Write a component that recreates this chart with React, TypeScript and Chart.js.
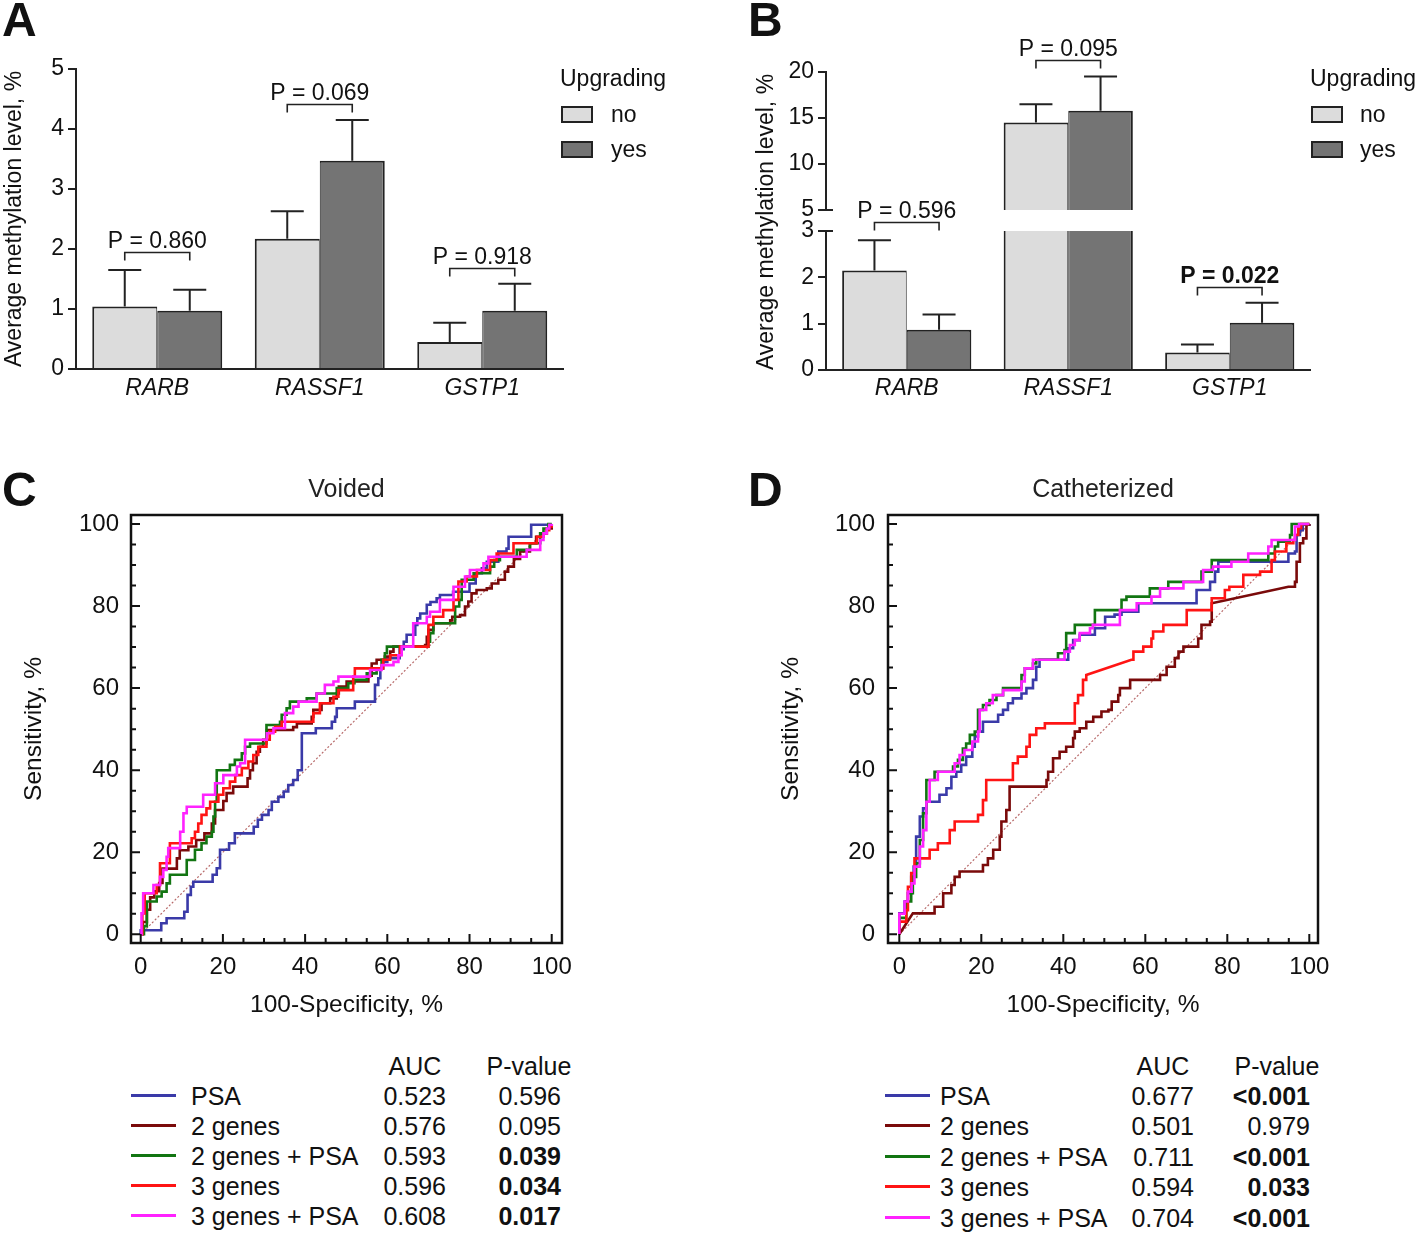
import React, { useEffect, useRef } from 'react';
import { Chart, registerables } from 'chart.js';
Chart.register(...registerables);

const FONT = '"Liberation Sans", Arial, Helvetica, sans-serif';

// ---------- Panels A / B (bar charts) ----------
const genes = ['RARB', 'RASSF1', 'GSTP1'];
const groups = ['no', 'yes'];
const legendTitle = 'Upgrading';
const yTitleBars = 'Average methylation level, %';

const aNo = [1.04, 2.17, 0.45];
const aYes = [0.97, 3.47, 0.97];
const aNoErr = [1.65, 2.63, 0.77];
const aYesErr = [1.32, 4.15, 1.42];
const aPText = ['P = 0.860', 'P = 0.069', 'P = 0.918'];
const aPLevel = [1.95, 4.42, 1.69];
const aPBold = [false, false, false];

const bNo = [2.15, 14.5, 0.38];
const bYes = [0.87, 15.8, 1.02];
const bNoErr = [2.8, 16.5, 0.55];
const bYesErr = [1.2, 19.5, 1.45];
const bPText = ['P = 0.596', 'P = 0.095', 'P = 0.022'];
const bPLevel = [3.19, 21.3, 1.79];
const bPBold = [false, false, true];

// ---------- Panels C / D (ROC curves) ----------
// points: [100-specificity, sensitivity] ; optional third value 1 = straight (diagonal) segment
const seriesNames = ['PSA', '2 genes', '2 genes + PSA', '3 genes', '3 genes + PSA'];
const seriesColors = ['#3a3aa8', '#7a0a0a', '#127512', '#ff1414', '#ff22ff'];

const cPSA = [[0,0],[0,1],[5,2.7],[6.3,3.9],[10.6,5.5],[11.4,9.6],[12.2,11.6],[12.8,12.8],[17.5,14.5],[18.5,16.1],[19.3,20.6],[21.5,22.2],[22.9,24.6],[27.5,26.2],[28.5,27.9],[29.5,29.1],[31.1,30.3],[31.9,32.3],[33.5,33.5],[34.8,34.8],[35.9,36.4],[37.1,37.6],[38.2,40],[39.2,49],[42.6,50.2],[46.5,51.8],[47.3,53],[47.7,55.1],[52.1,56.7],[57,60.8],[57.8,62.4],[58.3,64.8],[59,66.4],[60,67.3],[63,69.5],[64,71.3],[64.7,73],[66.8,75.4],[67.3,77],[68,78.2],[69.6,80.3],[70.5,81],[72,81.9],[72.8,82.7],[76,83.5],[80,85.5],[81.5,88],[83,89.2],[84.2,90.8],[87,93.3],[89,94],[89.5,96.9],[95,99.8],[100,100]];
const c2g = [[0,0],[0.5,3],[1.5,6],[2.3,9],[3.3,10.5],[4.5,12.5],[5.3,16],[8.8,18.5],[9.5,20.5],[11.6,21.4],[13.5,23],[15.5,24.6],[17.3,27],[18.1,30.3],[20.1,32.5],[20.9,34.4],[22.5,36],[26,38],[26.6,40],[27.3,41.7],[28.2,44.5],[29,45.7],[29.8,47.4],[30.7,49.8],[37.1,50.5],[38,51.4],[41.6,53],[42,54.7],[44,56.3],[46.1,57.5],[47.7,58.7],[48.2,60.4],[50.1,61.6],[55.4,63],[56.2,66],[57.4,66.9],[59.4,67.7],[60.7,68.9],[61.5,70.1],[69.2,70.5],[69.6,72.5],[70,74.2],[71.2,75.8],[75.3,76.5],[75.8,77.4],[77.7,77.8],[78.9,79.9],[79.7,81.1],[80.5,83.1],[81.7,83.9],[84.2,84.3],[85.4,85.5],[87,86.4],[88.6,88.4],[89.4,89.6],[90.8,91.5],[92.3,93.3],[94.7,95.3],[96.2,96.9],[97.2,97.7],[98.8,98.9],[100,100]];
const c2gPSA = [[0,0],[0.8,2],[1.5,8],[3.9,9.2],[5.1,10.4],[6.3,12.4],[7.1,14.5],[11.2,18.1],[13.2,20.6],[14.8,22.2],[16,23.8],[17.3,25],[17.7,28.7],[18.1,32.3],[18.5,40],[21.7,41.3],[22.9,42.5],[24.6,44.1],[25.4,45.7],[26.6,46.5],[30.6,51],[33.9,51.8],[34.3,53.5],[35.5,55.1],[36.3,56.7],[40.4,57.5],[42.8,58.7],[47.7,60],[50.5,61.2],[52,62],[55,63.6],[57.4,64.8],[58.6,66.9],[59.4,68.5],[59.9,70.1],[70,71.3],[70.4,73.4],[71.2,75.8],[76.5,79.9],[77.5,81.5],[78.1,86.4],[81,88],[85,89.6],[86,91.2],[87.4,92],[91.5,93.7],[94.7,95.3],[97.2,97.7],[98,98.9],[99.2,100],[100,100]];
const c3g = [[0,0],[0.4,5.1],[0.9,8.4],[1,10],[3.9,12],[4.7,17.3],[7.1,22.2],[12.4,23.4],[13.2,25],[14,27],[14.8,29.1],[16,30.7],[16.9,32.3],[18.9,34],[20.1,35.6],[21.7,37.2],[23,38.8],[24.6,40.5],[26.2,42.1],[27.4,43.7],[28.6,45.7],[30.6,47.4],[31.4,49.4],[32.7,50.6],[34.3,51.8],[42,53.9],[43.6,56.3],[46.9,57.9],[48.1,59.5],[51.7,62.8],[52.1,64.8],[59,66.9],[60.7,68],[63.1,70.1],[70,75.4],[71.2,77.4],[73.6,79],[76.1,81.5],[77.3,86],[79.3,87.2],[81.8,88.8],[85,91.2],[86.6,92.8],[90.7,95.3],[96.4,96.9],[98,97.7],[98.8,98.5],[99.4,99.4],[100,100]];
const c3gPSA = [[0,0],[0.2,5.1],[0.6,10],[3.1,12],[4.7,14],[5.5,15.7],[6.3,18.9],[6.7,21],[9.6,25],[10.4,29.5],[11.2,31.1],[15.2,34],[18.1,36.8],[20.1,38.8],[23.4,40.9],[24.2,41.7],[25.4,47.4],[30.7,49],[32.3,50.2],[35.1,53.9],[37.1,55.5],[38.4,56.7],[42.8,58.7],[44.8,60.8],[46.9,61.6],[48.1,62.8],[55.8,64.4],[58.6,65.6],[61.5,66.4],[62.7,68],[63.5,70.1],[66.3,75.8],[69.6,77.4],[70.4,78.6],[72.8,81.5],[76.1,84.7],[78.9,87.2],[80.1,88.8],[83.4,90.4],[84.6,92],[93.9,93.7],[97.2,96.1],[98,97.7],[98.8,98.9],[99.4,99.8],[100,100]];

const dPSA = [[0,0],[0,5.1],[1.3,8],[2.1,10],[2.9,14],[3.5,16.5],[4.1,23.8],[5,28.7],[5.8,30.7],[6.6,32.3],[9.8,34],[11.5,35.6],[12.7,38.4],[13.9,39.6],[15.1,41.3],[16.3,43.3],[17.8,45.7],[18.4,48.2],[19.2,49.4],[20.4,51.8],[24.1,53.5],[25.3,54.7],[26.5,56.3],[27.7,57.5],[29.8,58.7],[31,60],[32.6,62],[33.4,65.2],[34.2,66.9],[41.2,69.7],[42.4,71.7],[44,73],[47.7,74.6],[50.2,77.4],[52.5,77.9],[54.2,78.6],[58.3,80.7],[72.5,83.9],[75.8,85.9],[77,88.4],[77.8,90.8],[94.9,92.8],[96.5,93.3],[96.9,97.3],[97.7,98.5],[98.4,99.8],[100,100]];
const d2g = [[0,0],[3.3,5.1,1],[8.6,6.7],[10.7,10],[12.7,12],[13.5,14],[14.7,15.3],[20.4,16.9],[21.6,18.5],[22.9,20.6],[24.5,23.8],[24.9,27.5],[26.1,30.3],[26.9,36],[35.9,37.6],[36.3,39.6],[37.5,42.9],[39.1,44.5],[40.7,45.7],[42.4,47.8],[42.8,49.4],[44,50.2],[45.6,51.8],[47.3,53],[49.3,54.3],[51,54.7],[51.8,56.7],[53.4,58.3],[53.8,60],[56.3,62],[63.6,63.2],[65.2,65.2],[67.2,67.3],[68.1,68.9],[69.3,70.1],[72.9,72.1],[73.7,75.4],[75.8,76.2],[76.2,80.7],[94.9,84.7,1],[96.5,85.9],[96.9,90.8],[97.7,95.3],[98.5,96.5],[99.3,99.8],[100,100]];
const d2gPSA = [[0,0],[0,4],[1.7,8],[2.9,10],[3.3,14],[4.1,17.3],[5,23],[5.8,29.5],[6.6,37.6],[8.6,39.6],[13.1,40.9],[14.3,42.5],[15.5,45.3],[16.3,46.5],[17.2,48.6],[18.4,49.4],[19.2,54.7],[20.4,55.9],[22,57.1],[23.7,58.3],[25.3,60],[29.8,63.2],[30.6,64.8],[32.6,66],[33.4,66.9],[38.7,68.5],[40.3,69.3],[40.7,73.4],[42.8,75.4],[47.7,79],[54.2,81.5],[55.4,82.3],[61.1,84.3],[65.6,85.9],[73.7,88.4],[76.2,91.2],[90,92.8],[91.6,94.5],[92.4,95.7],[95.3,97.3],[95.7,100],[100,100]];
const d3g = [[0,0],[0,3.1],[1.7,5.9],[2.1,11.6],[2.9,14.9],[3.7,18.5],[7.4,20.6],[9.4,22.2],[12.3,25.4],[13.5,27.5],[19.2,29.1],[20.4,32.7],[21.2,37.6],[27.7,41.7],[28.9,43.3],[31,45.7],[31.8,48.6],[33.4,50.2],[35.5,51.4],[42.8,56.3],[43.6,58.3],[44.8,62],[45.6,63.2],[56.6,66.9,1],[57.1,68.9],[59.5,70.1],[61.5,72.1],[61.9,73.8],[64.4,75.4],[70.1,79],[76.2,81.9],[79.4,83.9],[80.5,84.7],[83.9,87.6],[88,88.4],[90.8,91.2],[91.6,93.3],[94.4,95.3],[96.1,96.1],[96.5,97.3],[97.3,99],[98,100],[100,100]];
const d3gPSA = [[0,0],[0,5],[1.3,8],[2.1,10.4],[3,12.4],[3.7,16.5],[5,21.4],[5.8,25.4],[6.6,32.3],[7.4,37.6],[9.4,39.6],[13.5,41.7],[14.7,43.7],[15.9,44.9],[17.8,47],[19.2,49.4],[19.6,54.7],[21.2,56.3],[22.8,58.3],[25.3,59.5],[29.8,61.6],[30.6,64.8],[32.6,66.9],[40.3,68.9],[41.6,70.5],[42.8,71.7],[44,73.4],[46.5,74.6],[47.2,75.4],[53.8,79],[57.9,80.7],[61.5,82.3],[63.6,84.3],[69.3,85.9],[74.1,88.8],[76.5,89.6],[81,90.8],[85.1,92.8],[90,94.5],[90.8,96.1],[96.5,99.4],[97.5,100],[100,100]];
const chanceLine = [[0,0],[100,100,1]];

const rocTickValues = [0, 20, 40, 60, 80, 100];
const rocMinorStep = 5;

const tableHeader = ['AUC', 'P-value'];
const cAUC = ['0.523', '0.576', '0.593', '0.596', '0.608'];
const cPval = ['0.596', '0.095', '0.039', '0.034', '0.017'];
const cPBold = [false, false, true, true, true];
const dAUC = ['0.677', '0.501', '0.711', '0.594', '0.704'];
const dPval = ['<0.001', '0.979', '<0.001', '0.033', '<0.001'];
const dPBold = [true, false, true, true, true];

const NO_COLOR = '#dcdcdc';
const YES_COLOR = '#747474';
const EDGE = '#222222';

function stepPath(pts: number[][]) {
  const out: { x: number; y: number }[] = [];
  pts.forEach((p, i) => {
    if (i > 0) {
      const q = pts[i - 1];
      if (!p[2] && p[0] !== q[0] && p[1] !== q[1]) out.push({ x: p[0], y: q[1] });
    }
    out.push({ x: p[0], y: p[1] });
  });
  return out;
}

function barPlugin(noErr: number[], yesErr: number[], pText: string[], pLevel: number[], pBold: boolean[], show: (v: number) => boolean, breakTick: number | null) {
  return {
    id: 'barAnnot',
    afterDatasetsDraw(chart: any) {
      const ctx = chart.ctx;
      const ys = chart.scales.y;
      ctx.save();
      ctx.strokeStyle = EDGE;
      ctx.lineWidth = 2;
      [noErr, yesErr].forEach((errs, di) => {
        const meta = chart.getDatasetMeta(di);
        const vals = chart.data.datasets[di].data;
        meta.data.forEach((bar: any, j: number) => {
          const v = vals[j];
          if (v < ys.min || v > ys.max) return;
          const top = ys.getPixelForValue(v);
          const e = ys.getPixelForValue(errs[j]);
          ctx.beginPath();
          ctx.moveTo(bar.x, top);
          ctx.lineTo(bar.x, e);
          ctx.moveTo(bar.x - 16.5, e);
          ctx.lineTo(bar.x + 16.5, e);
          ctx.stroke();
        });
      });
      ctx.lineWidth = 1.6;
      pText.forEach((t, j) => {
        if (!show(pLevel[j])) return;
        const x1 = chart.getDatasetMeta(0).data[j].x;
        const x2 = chart.getDatasetMeta(1).data[j].x;
        const py = Math.round(ys.getPixelForValue(pLevel[j])) + 0.5;
        ctx.beginPath();
        ctx.moveTo(x1, py + 8);
        ctx.lineTo(x1, py);
        ctx.lineTo(x2, py);
        ctx.lineTo(x2, py + 8);
        ctx.stroke();
        ctx.font = `${pBold[j] ? 'bold ' : ''}23px ${FONT}`;
        ctx.fillStyle = '#111';
        ctx.textAlign = 'center';
        ctx.textBaseline = 'alphabetic';
        ctx.fillText(t, (x1 + x2) / 2, py - 5);
      });
      if (breakTick !== null) {
        const py = ys.getPixelForValue(breakTick);
        const ax = chart.chartArea.left;
        ctx.lineWidth = 2;
        ctx.beginPath();
        ctx.moveTo(ax, py);
        ctx.lineTo(ax + 7, py);
        ctx.stroke();
      }
      ctx.restore();
    },
  };
}

function barConfig(no: number[], yes: number[], o: any) {
  const ds = (label: string, data: number[], bg: string, bw: any) => {
    const d: any = { label, data, backgroundColor: bg, borderColor: EDGE, borderWidth: bw, categoryPercentage: 0.8, barPercentage: 1 };
    if (o.clip) d.clip = o.clip;
    return d;
  };
  const x: any = {
    display: o.xDisplay,
    grid: { display: false, drawTicks: false },
    border: { display: true, color: EDGE, width: 2 },
    ticks: { font: { size: 23, style: 'italic' }, color: '#111', padding: o.xPad },
  };
  if (o.xDisplay) x.afterFit = (s: any) => { s.height = o.xHeight; };
  const y: any = {
    min: o.min, max: o.max,
    ticks: { stepSize: o.step, font: { size: 23 }, color: '#111', padding: 4 },
    grid: { drawOnChartArea: false, drawTicks: true, tickLength: 8, color: EDGE, lineWidth: 2 },
    border: { display: true, color: EDGE, width: 2 },
    afterFit: (s: any) => { s.width = o.yWidth; },
  };
  if (o.yTitle) y.title = { display: true, text: o.yTitle, font: { size: 23 }, color: '#111', padding: { top: 1, bottom: 0 } };
  return {
    type: 'bar',
    data: {
      labels: genes,
      datasets: [
        ds(groups[0], no, NO_COLOR, { top: 2, left: 2, right: 1, bottom: 0 }),
        ds(groups[1], yes, YES_COLOR, { top: 2, left: 1, right: 2, bottom: 0 }),
      ],
    },
    options: {
      responsive: false,
      animation: false,
      layout: { padding: o.padding },
      plugins: { legend: { display: false }, tooltip: { enabled: false }, title: { display: false } },
      scales: { x, y },
    },
    plugins: [barPlugin(o.noErr, o.yesErr, o.pText, o.pLevel, o.pBold, o.show, o.breakTick)],
  } as any;
}

const framePlugin = {
  id: 'rocFrame',
  afterDraw(chart: any) {
    const { ctx, chartArea: a, scales } = chart;
    const x = scales.x, y = scales.y;
    ctx.save();
    ctx.strokeStyle = '#111';
    ctx.lineWidth = 2.5;
    ctx.strokeRect(a.left, a.top, a.right - a.left, a.bottom - a.top);
    ctx.lineWidth = 2;
    for (let v = 0; v <= 100; v += rocMinorStep) {
      const len = v % 20 === 0 ? 9 : 5;
      const px = x.getPixelForValue(v);
      const py = y.getPixelForValue(v);
      ctx.beginPath();
      ctx.moveTo(px, a.bottom);
      ctx.lineTo(px, a.bottom - len);
      ctx.moveTo(a.left, py);
      ctx.lineTo(a.left + len, py);
      ctx.stroke();
    }
    ctx.restore();
  },
};

function rocConfig(curves: number[][][], o: any) {
  const order = [4, 3, 2, 1, 0];
  const datasets: any[] = order.map((i) => ({
    label: seriesNames[i],
    data: stepPath(curves[i]),
    borderColor: seriesColors[i],
    borderWidth: 2.6,
    pointRadius: 0,
    fill: false,
    tension: 0,
  }));
  datasets.push({
    label: 'chance',
    data: stepPath(chanceLine),
    borderColor: '#b86a6a',
    borderWidth: 1.2,
    borderDash: [2, 2],
    pointRadius: 0,
    fill: false,
  });
  const setTicks = (s: any) => { s.ticks = rocTickValues.map((v) => ({ value: v })); };
  return {
    type: 'line',
    data: { datasets },
    options: {
      responsive: false,
      animation: false,
      layout: { padding: { top: 0, right: o.padRight, bottom: 0, left: 0 } },
      plugins: {
        legend: { display: false },
        tooltip: { enabled: false },
        title: { display: true, text: o.title, fullSize: false, font: { size: 25, weight: 'normal' }, color: '#222', padding: { top: 15, bottom: 10 } },
      },
      scales: {
        x: {
          type: 'linear', min: o.xMin, max: o.xMax,
          afterBuildTicks: setTicks,
          ticks: { font: { size: 24 }, color: '#111', padding: 10, autoSkip: false, maxRotation: 0 },
          grid: { display: false, drawTicks: false },
          border: { display: false },
          title: { display: true, text: '100-Specificity, %', font: { size: 24.5 }, color: '#111', padding: { top: 0, bottom: 3 } },
          afterFit: (s: any) => { s.height = 80; },
        },
        y: {
          type: 'linear', min: o.yMin, max: o.yMax,
          afterBuildTicks: setTicks,
          ticks: { font: { size: 24 }, color: '#111', padding: o.yPad, autoSkip: false },
          grid: { display: false, drawTicks: false },
          border: { display: false },
          title: { display: true, text: 'Sensitivity, %', font: { size: 24.5 }, color: '#111', padding: { top: o.yTitlePad, bottom: 0 } },
          afterFit: (s: any) => { s.width = o.yWidth; },
        },
      },
    },
    plugins: [framePlugin],
  } as any;
}

function Txt(p: { x: number; y: number; text: string; size: number; align?: string; bold?: boolean; italic?: boolean }) {
  const style: any = {
    position: 'absolute',
    top: p.y - 0.8465 * p.size,
    fontSize: p.size,
    lineHeight: `${p.size}px`,
    fontFamily: FONT,
    fontWeight: p.bold ? 'bold' : 'normal',
    fontStyle: p.italic ? 'italic' : 'normal',
    whiteSpace: 'nowrap',
    color: '#111',
  };
  if (p.align === 'right') style.right = 1418 - p.x;
  else if (p.align === 'center') { style.left = p.x; style.transform = 'translateX(-50%)'; }
  else style.left = p.x;
  return <div style={style}>{p.text}</div>;
}

function Box(p: { x: number; y: number; w: number; h: number; bg: string }) {
  return <div style={{ position: 'absolute', left: p.x, top: p.y, width: p.w, height: p.h, background: p.bg, border: `2px solid ${EDGE}`, boxSizing: 'border-box' }} />;
}

function BarLegend(p: { x: number; tx: number }) {
  return (
    <>
      <Txt x={p.x} y={86} text={legendTitle} size={23} />
      <Box x={p.x + 1} y={106} w={32} h={17} bg={NO_COLOR} />
      <Txt x={p.tx} y={122} text={groups[0]} size={23} />
      <Box x={p.x + 1} y={141} w={32} h={17} bg={YES_COLOR} />
      <Txt x={p.tx} y={157} text={groups[1]} size={23} />
    </>
  );
}

function RocTable(p: { lx1: number; lx2: number; tx: number; aucR: number; aucC: number; pR: number; pC: number; top: number; step: number; auc: string[]; pv: string[]; bold: boolean[] }) {
  return (
    <>
      <Txt x={p.aucC} y={p.top} text={tableHeader[0]} size={25} align="center" />
      <Txt x={p.pC} y={p.top} text={tableHeader[1]} size={25} align="center" />
      {seriesNames.map((n, i) => {
        const base = p.top + 30 + i * p.step;
        return (
          <React.Fragment key={n}>
            <div style={{ position: 'absolute', left: p.lx1, top: base - 11.5, width: p.lx2 - p.lx1, height: 3, background: seriesColors[i] }} />
            <Txt x={p.tx} y={base} text={n} size={25} />
            <Txt x={p.aucR} y={base} text={p.auc[i]} size={25} align="right" />
            <Txt x={p.pR} y={base} text={p.pv[i]} size={25} align="right" bold={p.bold[i]} />
          </React.Fragment>
        );
      })}
    </>
  );
}

export default function App() {
  const aRef = useRef<HTMLCanvasElement>(null);
  const buRef = useRef<HTMLCanvasElement>(null);
  const blRef = useRef<HTMLCanvasElement>(null);
  const cRef = useRef<HTMLCanvasElement>(null);
  const dRef = useRef<HTMLCanvasElement>(null);

  useEffect(() => {
    Chart.defaults.font.family = FONT;
    Chart.defaults.color = '#111';
    const charts: Chart[] = [];
    charts.push(new Chart(aRef.current!, barConfig(aNo, aYes, {
      xDisplay: true, xHeight: 51, xPad: 6, min: 0, max: 5, step: 1, yWidth: 76, yTitle: yTitleBars,
      padding: { top: 69, right: 136.5, bottom: 0, left: 0 },
      noErr: aNoErr, yesErr: aYesErr, pText: aPText, pLevel: aPLevel, pBold: aPBold, show: () => true, breakTick: null,
    })));
    charts.push(new Chart(buRef.current!, barConfig(bNo, bYes, {
      xDisplay: false, min: 5, max: 20, step: 5, yWidth: 126,
      padding: { top: 72, right: 107.5, bottom: 20, left: 0 },
      clip: { left: false, top: false, right: false, bottom: 0 },
      noErr: bNoErr, yesErr: bYesErr, pText: bPText, pLevel: bPLevel, pBold: bPBold, show: (v: number) => v >= 5, breakTick: 5,
    })));
    charts.push(new Chart(blRef.current!, barConfig(bNo, bYes, {
      xDisplay: true, xHeight: 50, xPad: 5, min: 0, max: 3, step: 1, yWidth: 126,
      padding: { top: 51, right: 107.5, bottom: 0, left: 0 },
      clip: { left: false, top: 0, right: false, bottom: false },
      noErr: bNoErr, yesErr: bYesErr, pText: bPText, pLevel: bPLevel, pBold: bPBold, show: (v: number) => v < 5, breakTick: 3,
    })));
    charts.push(new Chart(cRef.current!, rocConfig([cPSA, c2g, c2gPSA, c3g, c3gPSA], {
      title: 'Voided', xMin: -2.36, xMax: 102.5, yMin: -2.12, yMax: 102.19, yWidth: 131, padRight: 147, yPad: 12, yTitlePad: 20,
    })));
    charts.push(new Chart(dRef.current!, rocConfig([dPSA, d2g, d2gPSA, d3g, d3gPSA], {
      title: 'Catheterized', xMin: -2.76, xMax: 102.12, yMin: -2.12, yMax: 102.19, yWidth: 148, padRight: 100, yPad: 13, yTitlePad: 37,
    })));
    return () => charts.forEach((c) => c.destroy());
  }, []);

  const cv = (ref: any, left: number, top: number, w: number, h: number) => (
    <canvas ref={ref} width={w} height={h} style={{ position: 'absolute', left, top, width: w, height: h }} />
  );

  return (
    <div style={{ position: 'absolute', left: 0, top: 0, width: 1418, height: 1235, background: '#fff', overflow: 'hidden', fontFamily: FONT }}>
      {cv(aRef, 0, 0, 700, 420)}
      {cv(buRef, 700, 0, 718, 230)}
      {cv(blRef, 700, 180, 718, 240)}
      {cv(cRef, 0, 460, 709, 563)}
      {cv(dRef, 740, 460, 678, 563)}

      <Txt x={2} y={37} text="A" size={48} bold />
      <Txt x={748} y={37} text="B" size={48} bold />
      <Txt x={2} y={507} text="C" size={48} bold />
      <Txt x={748} y={507} text="D" size={48} bold />

      <BarLegend x={560} tx={611} />
      <BarLegend x={1310} tx={1360} />

      <div style={{ position: 'absolute', left: 765, top: 222, transform: 'translate(-50%, -50%) rotate(-90deg)', fontSize: 23, lineHeight: '23px', fontFamily: FONT, whiteSpace: 'nowrap', color: '#111' }}>{yTitleBars}</div>

      <RocTable lx1={131} lx2={176} tx={191} aucR={446} aucC={415} pR={561} pC={529} top={1075} step={30} auc={cAUC} pv={cPval} bold={cPBold} />
      <RocTable lx1={885} lx2={930} tx={940} aucR={1194} aucC={1163} pR={1310} pC={1277} top={1075} step={30.5} auc={dAUC} pv={dPval} bold={dPBold} />
    </div>
  );
}
